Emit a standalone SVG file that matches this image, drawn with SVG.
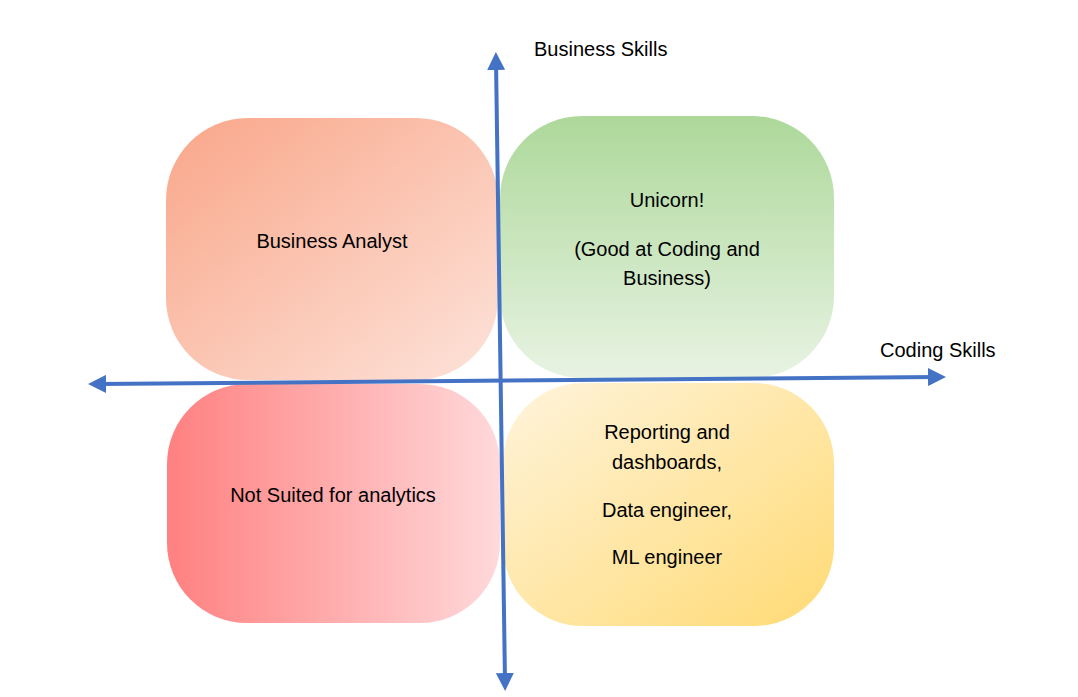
<svg xmlns="http://www.w3.org/2000/svg" width="1078" height="697" viewBox="0 0 1078 697">
<style>
text{font-family:"Liberation Sans",Arial,sans-serif;font-size:20px;fill:#000;}
.c{text-anchor:middle;}
.axis{stroke:#4472C4;stroke-width:4;fill:none;}
</style>
<defs>
<linearGradient id="gBA" x1="0" y1="0" x2="1" y2="1"><stop offset="0" stop-color="#F9A689"/><stop offset="1" stop-color="#FDE3DA"/></linearGradient>
<linearGradient id="gU" x1="0" y1="0" x2="0" y2="1"><stop offset="0" stop-color="#ADD89A"/><stop offset="1" stop-color="#E8F3E3"/></linearGradient>
<linearGradient id="gNS" x1="0" y1="0" x2="1" y2="0"><stop offset="0" stop-color="#FF8080"/><stop offset="1" stop-color="#FFD9DB"/></linearGradient>
<linearGradient id="gR" x1="0" y1="0" x2="1" y2="1"><stop offset="0" stop-color="#FFF4DC"/><stop offset="1" stop-color="#FFDA74"/></linearGradient>
<marker id="ah" viewBox="0 0 10 10" refX="5" refY="5" markerWidth="4.5" markerHeight="4.5" orient="auto-start-reverse" markerUnits="strokeWidth"><path d="M0,0 L10,5 L0,10 z" fill="#4472C4"/></marker>
</defs>
<rect width="1078" height="697" fill="#fff"/>
<g id="node-ba"><rect x="166" y="118" width="332" height="262" rx="82" fill="url(#gBA)"/><text class="c" x="332" y="248">Business Analyst</text></g>
<g id="node-unicorn"><rect x="500" y="116" width="334" height="262" rx="82" fill="url(#gU)"/><text class="c" x="667" y="207">Unicorn!</text><text class="c" x="667" y="256">(Good at Coding and</text><text class="c" x="667" y="285">Business)</text></g>
<g id="node-ns"><rect x="167" y="384" width="333" height="239" rx="80" fill="url(#gNS)"/><text class="c" x="333" y="502">Not Suited for analytics</text></g>
<g id="node-rep"><rect x="503" y="383" width="331" height="243" rx="80" fill="url(#gR)"/><text class="c" x="667" y="439">Reporting and</text><text class="c" x="667" y="469">dashboards,</text><text class="c" x="667" y="517">Data engineer,</text><text class="c" x="667" y="564">ML engineer</text></g>
<g id="connectors">
<line class="axis" x1="505" y1="682" x2="496" y2="61" marker-start="url(#ah)" marker-end="url(#ah)"/>
<line class="axis" x1="97" y1="384" x2="937" y2="377" marker-start="url(#ah)" marker-end="url(#ah)"/>
</g>
<g id="labels">
<text x="534" y="56">Business Skills</text>
<text x="880" y="357">Coding Skills</text>
</g>
</svg>
